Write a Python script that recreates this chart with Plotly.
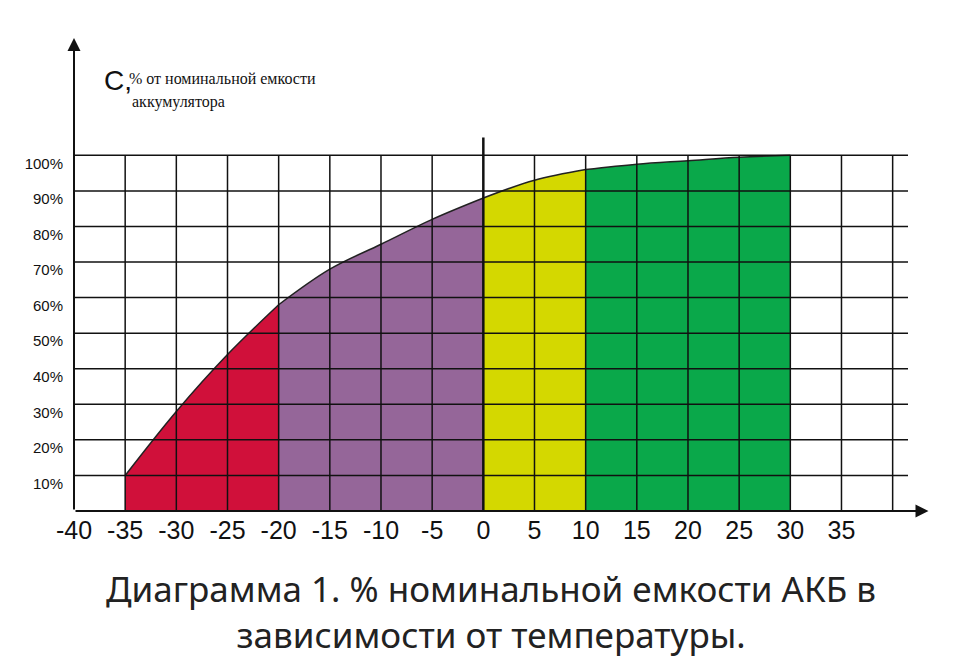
import plotly.graph_objects as go

# temperature (°C) and capacity (%)
temps = [-35, -30, -25, -20, -15, -10, -5, 0, 5, 10, 15, 20, 25, 30]
capacity = [10, 28, 44, 58, 68, 75, 82, 88, 93, 96, 97.5, 98.5, 99.5, 100]

# coloured zones: (from, to, colour)
zones = [(-35, -20, "#d0103a"), (-20, 0, "#956699"), (0, 10, "#d4d800"), (10, 30, "#0aa84a")]

x_ticks = list(range(-40, 40, 5))
x_labels = [str(v) for v in x_ticks]
y_ticks = list(range(10, 110, 10))
y_labels = [f"{v}%" for v in y_ticks]

fig = go.Figure()
for lo, hi, col in zones:
    xs = [t for t in temps if lo <= t <= hi]
    ys = [c for t, c in zip(temps, capacity) if lo <= t <= hi]
    fig.add_trace(go.Scatter(x=xs, y=ys, mode="lines", fill="tozeroy",
                             fillcolor=col, line=dict(color="#222", width=1.5),
                             line_shape="spline", hoverinfo="skip"))

# grid
for v in y_ticks:
    fig.add_shape(type="line", x0=-40, x1=41.5, y0=v, y1=v,
                  line=dict(color="#111", width=1.5), layer="above")
for t in range(-35, 45, 5):
    fig.add_shape(type="line", x0=t, x1=t, y0=0, y1=105 if t == 0 else 100,
                  line=dict(color="#111", width=2.5 if t == 0 else 1.5), layer="above")

# axes with arrows
fig.add_annotation(x=43.5, y=0, ax=-40, ay=0, xref="x", yref="y", axref="x", ayref="y",
                   showarrow=True, arrowhead=2, arrowsize=1.3, arrowwidth=2, arrowcolor="#111", text="")
fig.add_annotation(x=-40, y=133, ax=-40, ay=0, xref="x", yref="y", axref="x", ayref="y",
                   showarrow=True, arrowhead=2, arrowsize=1.3, arrowwidth=2, arrowcolor="#111", text="")

fig.add_annotation(x=-37.3, y=121, xref="x", yref="y", text="C,", showarrow=False,
                   xanchor="left", font=dict(size=28, color="#111", family="Liberation Sans Narrow, Arial"))
fig.add_annotation(x=-34.8, y=121.5, xref="x", yref="y", text="% от номинальной емкости",
                   showarrow=False, xanchor="left", font=dict(size=16, color="#111", family="Liberation Sans Narrow"))
fig.add_annotation(x=-34.5, y=115, xref="x", yref="y", text="аккумулятора",
                   showarrow=False, xanchor="left", font=dict(size=16, color="#111", family="Liberation Sans Narrow"))
fig.add_annotation(x=44, y=-7, xref="x", yref="y", text="t,°C", showarrow=False,
                   font=dict(size=32, color="#111", family="Liberation Sans Narrow, Arial"))
fig.add_annotation(x=0.5, y=-0.11, xref="paper", yref="paper", yanchor="top", showarrow=False,
                   text="Диаграмма 1. % номинальной емкости АКБ в<br>зависимости от температуры.",
                   font=dict(size=35, color="#222", family="Noto Sans"))

fig.update_layout(
    width=960, height=664, showlegend=False,
    paper_bgcolor="white", plot_bgcolor="white",
    margin=dict(l=66, r=60, t=30, b=161),
    xaxis=dict(range=[-40, 41.5], tickvals=x_ticks, ticktext=x_labels, showgrid=False,
               zeroline=False, showline=False, ticks="", ticklabelstandoff=2, automargin=False,
               tickfont=dict(size=25, color="#111", family="Liberation Sans Narrow, Arial")),
    yaxis=dict(range=[0, 133], tickvals=y_ticks, ticktext=y_labels, showgrid=False,
               zeroline=False, showline=False, ticks="", ticklabelshift=8, ticklabelstandoff=10,
               automargin=False,
               tickfont=dict(size=15, color="#111", family="Liberation Sans Narrow, Arial")),
)

fig.write_html("out.html")
